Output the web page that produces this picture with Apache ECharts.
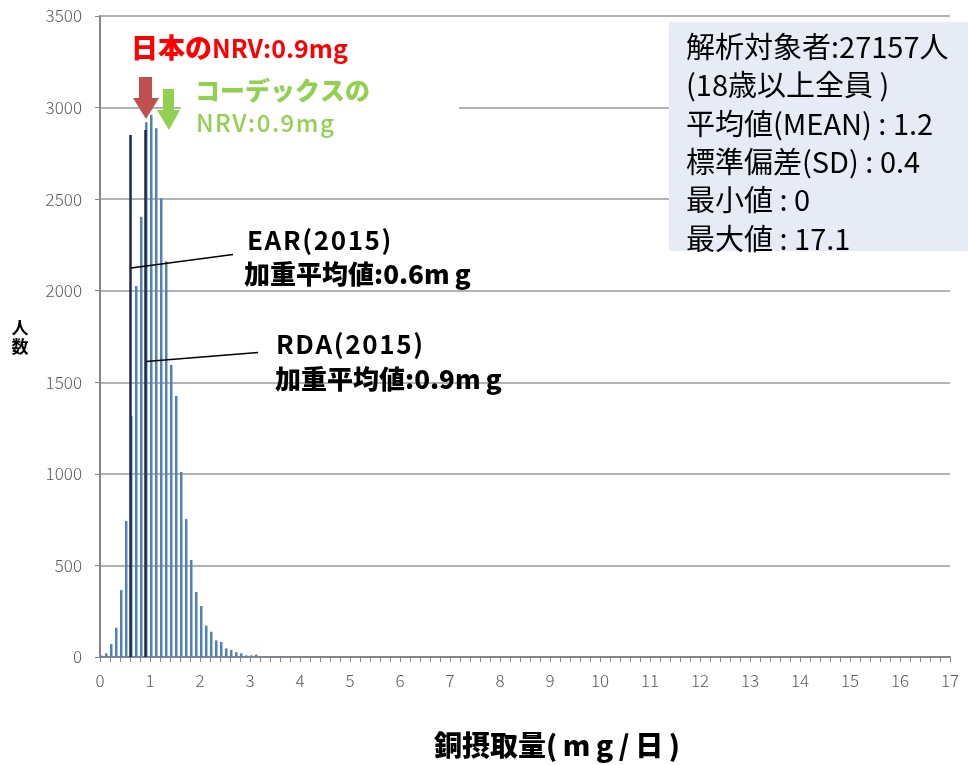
<!DOCTYPE html>
<html><head><meta charset="utf-8">
<script src="https://cdn.jsdelivr.net/npm/echarts@6/dist/echarts.min.js"></script>
<style>html,body{margin:0;padding:0;background:#fff}#c{width:968px;height:765px}</style>
</head><body><div id="c"></div>
<script>
// bin lower edges (mg/day) and number of persons per 0.1 mg bin
const binStart = [0.0,0.1,0.2,0.3,0.4,0.5,0.6,0.7,0.8,0.9,1.0,1.1,1.2,1.3,1.4,1.5,1.6,1.7,1.8,1.9,
  2.0,2.1,2.2,2.3,2.4,2.5,2.6,2.7,2.8,2.9,3.0,3.1,3.2,3.3,3.4,3.5,3.6,3.7,3.8,3.9,4.0,4.1,4.2,4.3,4.4];
const counts = [8,20,70,160,365,743,1316,2026,2404,2920,2961,2887,2505,2159,1594,1425,1010,753,530,355,
  278,171,138,91,82,47,38,26,20,9,9,13,3,1,2,3,2,1,3,2,1,2,1,1,2];
// reference values (mg/day) and drawn heights of their vertical lines
const refNames = ['EAR', 'RDA'];
const refValues = [0.6, 0.9];
const refTops = [2850, 2877];
const infoLines = ['解析対象者:27157人', '(18歳以上全員 )', '平均値(MEAN) : 1.2', '標準偏差(SD) : 0.4', '最小値 : 0', '最大値 : 17.1'];

const JP = '"Noto Sans CJK JP", "Noto Sans", sans-serif';
const H = '\u200a', T = '\u2009';
const spread = (s, sp) => s.split('').join(sp);
const chart = echarts.init(document.getElementById('c'));

const graphics = [];
// info box
graphics.push({type:'rect', z:10, shape:{x:669, y:22, width:299, height:229}, style:{fill:'#e6ebf5'}});
infoLines.forEach((t, i) => {
  graphics.push({type:'text', z:11, style:{text:t, x:686, y:47 + i*38.3, fill:'#000',
    font:'400 29px ' + JP, textAlign:'left', textVerticalAlign:'middle'}});
});
// white box behind codex text
graphics.push({type:'rect', z:5, shape:{x:181, y:70, width:278, height:70}, style:{fill:'#fff'}});
// red title
graphics.push({type:'text', z:12, style:{text:'{a|日本の}{b|NRV:0.9mg}', x:131, y:48, textVerticalAlign:'middle',
  rich:{a:{fill:'#ff0000', font:'900 27px ' + JP}, b:{fill:'#ff0000', font:'700 25px ' + JP}}}});
// green text
graphics.push({type:'text', z:12, style:{text:'コーデックスの', x:195, y:90, fill:'#92d050',
  font:'900 25px ' + JP, textVerticalAlign:'middle'}});
graphics.push({type:'text', z:12, style:{text:spread('NRV:0.9mg', H), x:196, y:123, fill:'#92d050',
  font:'500 24px ' + JP, textVerticalAlign:'middle'}});
// arrows
graphics.push({type:'polygon', z:12, shape:{points:[[139,77],[152,77],[152,98],[159,98],[146,119],[133,98],[139,98]]}, style:{fill:'#c0504d'}});
graphics.push({type:'polygon', z:12, shape:{points:[[163,89],[174,89],[174,110],[180,110],[169,130],[157,110],[163,110]]}, style:{fill:'#92d050'}});
// EAR / RDA labels
graphics.push({type:'text', z:12, style:{text:spread(refNames[0] + '(2015)', H), x:247, y:240, fill:'#000',
  font:'700 26px ' + JP, textVerticalAlign:'middle'}});
graphics.push({type:'text', z:12, style:{text:'加重平均値:0.6m' + T + 'g', x:244, y:274, fill:'#000',
  font:'900 26px ' + JP, textVerticalAlign:'middle'}});
graphics.push({type:'text', z:12, style:{text:spread(refNames[1] + '(2015)', H), x:276, y:344, fill:'#000',
  font:'700 26px ' + JP, textVerticalAlign:'middle'}});
graphics.push({type:'text', z:12, style:{text:'加重平均値:0.9m' + T + 'g', x:275, y:379, fill:'#000',
  font:'900 26px ' + JP, textVerticalAlign:'middle'}});
// leader lines
graphics.push({type:'line', z:12, shape:{x1:131, y1:268, x2:233, y2:254.5}, style:{stroke:'#000', lineWidth:1.5}});
graphics.push({type:'line', z:12, shape:{x1:146, y1:361.5, x2:258, y2:352.5}, style:{stroke:'#000', lineWidth:1.5}});
// axis titles
graphics.push({type:'text', z:12, style:{text:'人\n数', x:20, y:337, fill:'#000', font:'700 17px ' + JP,
  textAlign:'center', textVerticalAlign:'middle', lineHeight:19}});
graphics.push({type:'text', z:12, style:{text:'銅摂取量(' + T + 'm' + T + 'g' + T + '/' + T + '日' + T + ')', x:557, y:745, fill:'#000', font:'900 28px ' + JP,
  textAlign:'center', textVerticalAlign:'middle'}});

chart.setOption({
  animation:false,
  backgroundColor:'#fff',
  grid:{left:100, right:18, top:16, bottom:108, containLabel:false},
  xAxis:{type:'value', min:0, max:17, interval:1,
    axisLine:{show:true, onZero:false, lineStyle:{color:'#868686', width:2}},
    axisTick:{show:true, length:5, lineStyle:{color:'#868686', width:1}},
    minorTick:{show:true, splitNumber:5, length:5, lineStyle:{color:'#868686', width:1}},
    axisLabel:{color:'#595959', fontSize:17, margin:15, fontFamily:JP, fontWeight:300},
    splitLine:{show:false}},
  yAxis:{type:'value', min:0, max:3500, interval:500,
    axisLine:{show:true, lineStyle:{color:'#868686', width:2}},
    axisTick:{show:true, length:5, lineStyle:{color:'#868686', width:1}},
    axisLabel:{color:'#595959', fontSize:17, margin:18, fontFamily:JP, fontWeight:300,
      formatter: v => String(v)},
    splitLine:{show:true, lineStyle:{color:'#9a9a9a', width:1.5}}},
  series:[{
    type:'bar', barWidth:2.5, z:3,
    itemStyle:{color:'#4f81bd'},
    data: binStart.map((x, i) => [x + 0.025, counts[i]]),
    markLine:{silent:true, symbol:'none', label:{show:false}, z:4,
      lineStyle:{color:'#1b2a48', width:2.5, type:'solid'},
      data: refValues.map((v, i) => [{coord:[v, 0]}, {coord:[v, refTops[i]]}])}
  }],
  graphic: graphics
});
</script></body></html>
